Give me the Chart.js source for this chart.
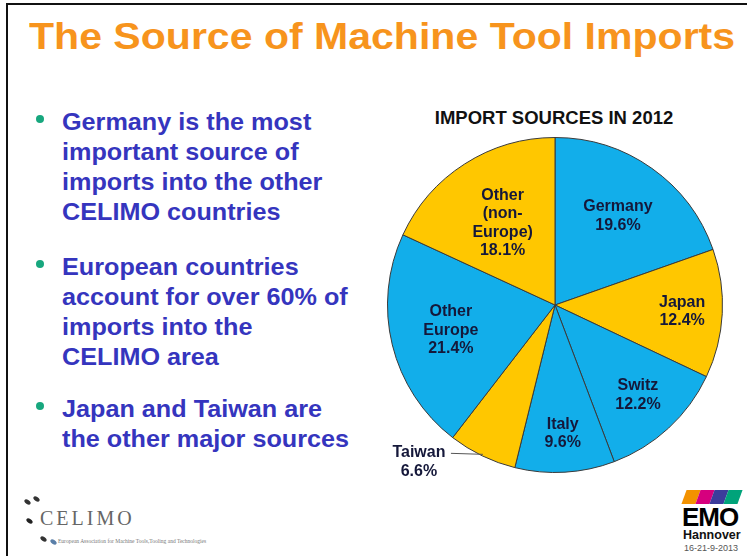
<!DOCTYPE html>
<html>
<head>
<meta charset="utf-8">
<script src="https://cdn.jsdelivr.net/npm/chart.js@4"></script>
<style>
    body { margin: 0; width: 747px; height: 556px; background: #fff; overflow: hidden; position: relative; font-family: "Liberation Sans", Arial, sans-serif; }
    .frame { position: absolute; left: 6px; top: 3px; width: 800px; height: 600px; border-left: 2px solid #111; border-top: 2px solid #111; }
    .title { position: absolute; left: 29px; top: 16px; font-size: 36px; font-weight: bold; color: #F7941D; white-space: nowrap; transform-origin: left top; transform: scaleX(1.14); }
    .bullet { position: absolute; left: 62px; font-size: 24px; font-weight: bold; color: #3535BE; line-height: 30px; white-space: nowrap; transform-origin: left top; transform: scaleX(1.05); }
    .dot { position: absolute; left: 36px; width: 8px; height: 8px; border-radius: 50%; background: #17A77E; }
    .chart-title { position: absolute; left: 554px; top: 107px; transform: translateX(-50%); font-size: 18.5px; font-weight: bold; color: #111; white-space: nowrap; }
    #wrap { position: absolute; left: 375px; top: 125px; width: 360px; height: 360px; }
    .celimo { position: absolute; left: 40px; top: 507px; font-family: "Liberation Serif", serif; font-size: 20px; color: #666; letter-spacing: 3px; }
    .celimo-sub { position: absolute; left: 58px; top: 538px; font-family: "Liberation Serif", serif; font-size: 5.5px; color: #777; white-space: nowrap; }
    .swirl { position: absolute; width: 7px; height: 4px; border-radius: 50%; background: #333; transform: rotate(35deg); }
    .emo-bars { position: absolute; left: 684px; top: 490px; }
    .emo-bars span { display: inline-block; width: 14px; height: 14px; transform: skewX(-20deg); }
    .emo { position: absolute; left: 682px; top: 502px; font-size: 26px; font-weight: 900; color: #000; letter-spacing: -1px; }
    .hann { position: absolute; left: 683px; top: 528px; font-size: 12.5px; font-weight: bold; color: #111; }
    .date { position: absolute; left: 684px; top: 543px; font-size: 9px; color: #555; }
</style>
</head>
<body>
<div class="frame"></div>
<div class="title">The Source of Machine Tool Imports</div>

<div class="dot" style="top:115px"></div>
<div class="bullet" style="top:107px">Germany is the most<br>important source of<br>imports into the other<br>CELIMO countries</div>
<div class="dot" style="top:260px"></div>
<div class="bullet" style="top:252px">European countries<br>account for over 60% of<br>imports into the<br>CELIMO area</div>
<div class="dot" style="top:402px"></div>
<div class="bullet" style="top:394px">Japan and Taiwan are<br>the other major sources</div>

<div class="chart-title">IMPORT SOURCES IN 2012</div>
<div id="wrap"><canvas id="pieChart"></canvas></div>

<div class="swirl" style="left:24px;top:500px"></div>
<div class="swirl" style="left:33px;top:497px"></div>
<div class="swirl" style="left:26px;top:519px;background:#222"></div>
<div class="swirl" style="left:40px;top:537px"></div>
<div class="swirl" style="left:50px;top:540px;background:#5a7fa8"></div>
<div class="celimo">CELIMO</div>
<div class="celimo-sub">European Association for Machine Tools,Tooling and Technologies</div>

<div class="emo-bars"><span style="background:#F39200"></span><span style="background:#D6007E"></span><span style="background:#3C3C9B"></span><span style="background:#00A37A"></span></div>
<div class="emo">EMO</div>
<div class="hann">Hannover</div>
<div class="date">16-21-9-2013</div>

<script>
// Import shares 2012 (%), clockwise from 12 o'clock
const categories = ['Germany', 'Japan', 'Switz', 'Italy', 'Taiwan', 'Other Europe', 'Other (non-Europe)'];
const categoryLines = [['Germany'], ['Japan'], ['Switz'], ['Italy'], ['Taiwan'], ['Other', 'Europe'], ['Other', '(non-', 'Europe)']];
const shares = [19.6, 12.4, 12.2, 9.6, 6.6, 21.4, 18.1];

const BLUE = '#12AEEA';
const YELLOW = '#FFC700';
const sliceColors = [BLUE, YELLOW, BLUE, BLUE, YELLOW, BLUE, YELLOW];

// how far out (fraction of radius) each label sits; null = outside with leader line
const labelRadius = [0.65, 0.76, 0.73, 0.77, null, 0.64, 0.58];

const sliceLabels = {
    id: 'sliceLabels',
    afterDatasetsDraw(chart) {
        const ctx = chart.ctx;
        const arcs = chart.getDatasetMeta(0).data;
        ctx.save();
        ctx.font = 'bold 16px "Liberation Sans", Arial, sans-serif';
        ctx.fillStyle = '#15183a';
        ctx.textAlign = 'center';
        ctx.textBaseline = 'middle';
        arcs.forEach((arc, i) => {
            const lines = categoryLines[i].concat([shares[i].toFixed(1) + '%']);
            const mid = (arc.startAngle + arc.endAngle) / 2;
            let x, y;
            if (labelRadius[i] === null) {
                // outside label with leader line ending just inside the slice
                const ex = arc.x + Math.cos(mid) * arc.outerRadius * 0.99;
                const ey = arc.y + Math.sin(mid) * arc.outerRadius * 0.99;
                x = ex - 64;
                y = ey + 8;
                ctx.strokeStyle = '#555';
                ctx.lineWidth = 1;
                ctx.beginPath();
                ctx.moveTo(x + 32, y - 9);
                ctx.lineTo(ex, ey);
                ctx.stroke();
            } else {
                x = arc.x + Math.cos(mid) * arc.outerRadius * labelRadius[i];
                y = arc.y + Math.sin(mid) * arc.outerRadius * labelRadius[i];
            }
            const lh = 18.5;
            const top = y - (lines.length - 1) * lh / 2;
            lines.forEach((t, k) => ctx.fillText(t, x, top + k * lh));
        });
        ctx.restore();
    }
};

new Chart(document.getElementById('pieChart'), {
    type: 'pie',
    data: {
        labels: categories,
        datasets: [{
            data: shares,
            backgroundColor: sliceColors,
            borderColor: '#3a3a3a',
            borderWidth: 1
        }]
    },
    options: {
        responsive: true,
        maintainAspectRatio: false,
        animation: false,
        layout: { padding: 12 },
        plugins: {
            legend: { display: false },
            tooltip: { enabled: false }
        }
    },
    plugins: [sliceLabels]
});
</script>
</body>
</html>
